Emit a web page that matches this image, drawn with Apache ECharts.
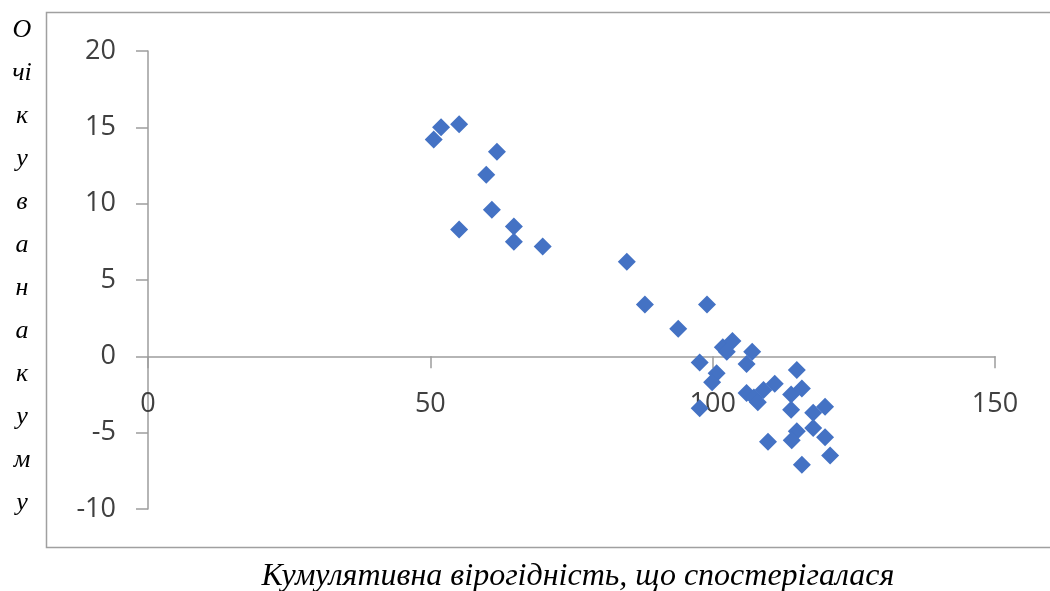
<!DOCTYPE html>
<html>
<head>
<meta charset="utf-8">
<script src="https://cdn.jsdelivr.net/npm/echarts@6/dist/echarts.min.js"></script>
<style>
  html, body { margin: 0; padding: 0; background: #fff; }
  #chart { width: 1050px; height: 591px; }
</style>
</head>
<body>
<div id="chart"></div>
<script>
// Observed cumulative probability (x) vs expected cumulative value (y)
const observedX = [
  50.6, 51.9, 55.1, 61.8, 59.9, 60.9, 55.1, 64.8, 64.8, 69.9,
  84.8, 88.0, 93.9, 99.0, 97.7, 101.8, 103.5, 102.5, 107.0, 106.0,
  100.7, 99.9, 97.7, 106.0, 107.3, 108.0, 109.0, 111.0, 114.9, 113.9,
  115.8, 113.9, 109.8, 114.9, 114.0, 115.8, 117.8, 119.9, 117.8, 119.9,
  120.8
];
const expectedY = [
  14.2, 15.0, 15.2, 13.4, 11.9, 9.6, 8.3, 8.5, 7.5, 7.2,
  6.2, 3.4, 1.8, 3.4, -0.4, 0.6, 1.0, 0.3, 0.3, -0.5,
  -1.1, -1.7, -3.4, -2.4, -2.7, -3.0, -2.2, -1.8, -0.9, -2.5,
  -2.1, -3.5, -5.6, -4.9, -5.5, -7.1, -3.7, -3.3, -4.7, -5.3,
  -6.5
];
const xTicks = [0, 50, 100, 150];
const yTicks = [-10, -5, 0, 5, 10, 15, 20];
const xTitle = 'Кумулятивна вірогідність, що спостерігалася';
const yTitleLines = ['О', 'чі', 'к', 'у', 'в', 'а', 'н', 'а', 'к', 'у', 'м', 'у'];

const points = observedX.map((x, i) => [x, expectedY[i]]);

const chart = echarts.init(document.getElementById('chart'), null, { renderer: 'canvas' });

const axisGray = '#9d9d9d';
const labelFont = { fontFamily: 'Open Sans', fontSize: 27, color: '#404040' };

chart.setOption({
  animation: false,
  backgroundColor: '#fff',
  grid: { left: 148, right: 55, top: 51, bottom: 82, containLabel: false },
  xAxis: {
    type: 'value',
    min: xTicks[0],
    max: xTicks[xTicks.length - 1],
    interval: xTicks[1] - xTicks[0],
    axisLine: { show: true, onZero: true, lineStyle: { color: axisGray, width: 1.5 } },
    axisTick: { show: true, length: 12, inside: false, lineStyle: { color: axisGray, width: 1.5 } },
    // tick labels sit just under the zero line, inside the plot
    axisLabel: Object.assign({ margin: -118 }, labelFont),
    splitLine: { show: false }
  },
  yAxis: {
    type: 'value',
    min: yTicks[0],
    max: yTicks[yTicks.length - 1],
    interval: yTicks[1] - yTicks[0],
    axisLine: { show: true, onZero: false, lineStyle: { color: axisGray, width: 1.5 } },
    axisTick: { show: true, length: 12, inside: false, lineStyle: { color: axisGray, width: 1.5 } },
    axisLabel: Object.assign({ margin: 32 }, labelFont),
    splitLine: { show: false }
  },
  series: [{
    type: 'scatter',
    data: points,
    symbol: 'diamond',
    symbolSize: [18, 18],
    itemStyle: { color: '#4472C4', opacity: 1 }
  }],
  graphic: [
    {
      type: 'rect',
      silent: true,
      z: -1,
      shape: { x: 46.5, y: 12.5, width: 1010, height: 535 },
      style: { fill: 'none', stroke: '#a0a0a0', lineWidth: 1.5 }
    },
    {
      type: 'text',
      x: 578,
      y: 577,
      style: {
        text: xTitle,
        font: 'italic 32px "Liberation Serif"',
        align: 'center',
        verticalAlign: 'middle',
        fill: '#000'
      }
    },
    {
      type: 'text',
      x: 22,
      y: 9,
      style: {
        text: yTitleLines.join('\n'),
        font: 'italic 26px "Liberation Serif"',
        lineHeight: 43,
        align: 'center',
        fill: '#000'
      }
    }
  ]
});
</script>
</body>
</html>
